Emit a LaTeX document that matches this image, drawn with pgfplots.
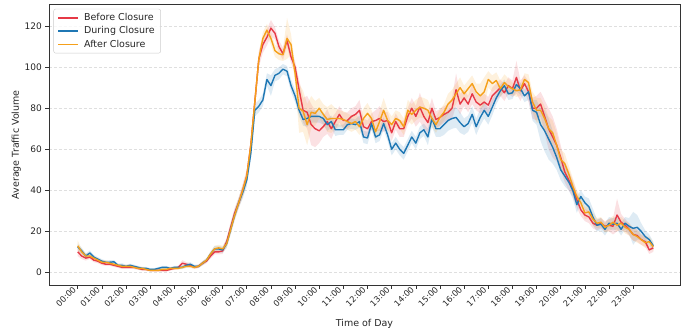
\documentclass[border=0pt]{standalone}
\usepackage{pgfplots}
\pgfplotsset{compat=1.18}
\usepackage{pgfplotstable}
\usepgfplotslibrary{fillbetween}
\usepackage{fontspec}
\setmainfont{DejaVu Sans}
\definecolor{cRed}{HTML}{E63946}
\definecolor{cBlue}{HTML}{1F77B4}
\definecolor{cOrange}{HTML}{F5A01A}
\definecolor{txt}{HTML}{262626}

\pgfplotstableread{
t r re b be o oe
0.000 10 2 12.5 1.5 13 2.5
0.167 8 1.5 10.5 1.5 10 1.5
0.333 7 1.2 8 1.2 8 1.5
0.500 7.5 1 9.5 1.2 8 1.2
0.667 6 1 7.5 1 7 1
0.833 5.5 1 6.5 1 6 1
1.000 4.5 1 5.5 1 5 1
1.167 4 0.8 5 0.8 5 1
1.333 4 0.8 5 1 4.5 0.8
1.500 3.5 0.8 5.2 0.8 4 0.8
1.667 3 0.8 3.5 0.8 3.5 0.8
1.833 2.5 0.8 3.5 1 3 0.8
2.000 2.5 0.8 3 0.8 3 0.8
2.167 2.5 0.8 3.5 0.8 3 0.8
2.333 2.5 0.8 3 0.8 2.5 0.8
2.500 2 0.7 2.5 0.7 2 0.7
2.667 1.5 0.7 2 0.7 2 0.7
2.833 1.5 0.7 2 0.7 1.5 0.7
3.000 1 0.5 1.5 0.6 1 0.5
3.167 1 0.5 1.5 0.6 1 0.5
3.333 1 0.5 2 0.6 1 0.5
3.500 1 0.5 2.5 0.7 1.5 0.6
3.667 1 0.6 2.5 0.7 1.5 0.6
3.833 1.5 0.6 2 0.7 2 0.6
4.000 2 0.7 2.5 0.7 2 0.7
4.167 2.5 0.8 2.5 0.7 2 0.7
4.333 4.5 1.5 2.5 0.8 2.5 0.8
4.500 4 1 3.5 1 3 0.8
4.667 3.5 1 4 1 3 0.8
4.833 2.5 0.8 3 0.8 2.5 0.8
5.000 3 0.8 3 0.8 3 0.8
5.167 4.5 1 4.5 1 4.5 1
5.333 5.5 1 6 1 6 1
5.500 8 1.2 9 1.2 9 1.2
5.667 10 1.2 11.5 1.5 11.5 1.5
5.833 10 1.2 11.5 1.5 12 1.5
6.000 10.5 1.5 11 1.5 11.5 1.5
6.167 15 2 14 2 14 2
6.333 22 2.5 21 2.5 21 2.5
6.500 29 2.5 28 2.5 28 2.5
6.667 34 2.5 34 2.5 34 2.5
6.833 40 3 39 3 40 3
7.000 47 3 45 3 47 3
7.167 62 3 58 3 62 3
7.333 83 4 79 3 83 3
7.500 104 4 81 3 104 3
7.667 111 4 84 3 114 3
7.833 114.5 4 94 3 118 3
8.000 119 4 91 5 114 3
8.167 116.5 3 96 3 108 3
8.333 110 3 97 3 106.5 3
8.500 106.5 3 99 2.5 106 3
8.667 113 3 98 2.5 114 10
8.833 105 3 91 3 111 5
9.000 100 3 86 3 97 4
9.167 89 5 79 3 80 12
9.333 79 6 74.5 3 78.5 10
9.500 78 8 75 4 72 10
9.667 72 10 76 3 78 8
9.833 70 9 76 3 77.5 6
10.000 69 6 76 3 80 5
10.167 71 5 75 3 77 5
10.333 73.5 6 72 3 74.5 6
10.500 70 5 73.5 3 75 7
10.667 73.5 4 69.5 3 75 5
10.833 77 4 69.5 2.5 75 4
11.000 74 4 69.5 2.5 74.5 4
11.167 74 4 72 2.5 73.5 4
11.333 76 4 72.5 2.5 72.5 4
11.500 77 4 72 2.5 73.5 4
11.667 79 5 73.5 3 71 4
11.833 71 4 66 3 75 5
12.000 70 4 65.5 3 77.5 5
12.167 73.5 4 72.5 3 75 4
12.333 74 5 66 3 68.5 4
12.500 75 6 67 3 73.5 5
12.667 73.5 5 72.5 3 79 6
12.833 74 4 67 3 74 5
13.000 68 4 60 3 72 4
13.167 73.5 4 63 3 75 4
13.333 70 4 60 3 74 4
13.500 70 4 58 3 71 4
13.667 76 4 62 3 79 5
13.833 80 5 66 3 77 5
14.000 76 5 63 3 79 5
14.167 80.5 7 68 3 80.5 5
14.333 76 6 69.5 3 80 5
14.500 73 5 66 4 79 5
14.667 80 5 75 4 75 4
14.833 74.5 4 70 4 72 4
15.000 75.5 4 70 4 75.5 4
15.167 77 4 72 5 78 4
15.333 78 4 74 5 82 5
15.500 80 5 75 5 84 5
15.667 89 8 75.5 5 87 5
15.833 82 5 73 5 90 5
16.000 85 4 71 4 87 4
16.167 82 4 72.5 4 89.5 4
16.333 87 5 77 4 92 4
16.500 83 4 71 4 88 4
16.667 81.5 4 75.5 4 86 6
16.833 83 4 79 4 88 7
17.000 81.5 4 76 4 94 4
17.167 86 4 80.5 4 92 4
17.333 88 4 85 3 93.5 4
17.500 90 4 88.5 3 89.5 4
17.667 87.5 4 91 3 92.5 4
17.833 91 4 87 3 90.5 4
18.000 89.5 4 87.5 3 89.5 3
18.167 95 8 91.5 3 88.5 3
18.333 88.5 5 89.5 3 89 3
18.500 92 4 86 3 94 3
18.667 88 5 88 4 92.5 4
18.833 80 5 79 5 83 5
19.000 80 6 78 6 79 6
19.167 82 6 72 8 79 6
19.333 76 8 69 10 75 6
19.500 70 10 65 10 70 6
19.667 66 10 61 8 68 6
19.833 62 8 56 6 62 6
20.000 56 6 50 5 55 5
20.167 49 5 47 5 53 5
20.333 45 5 44 4 48 4
20.500 41 4 40 4 42 4
20.667 35.5 4 33 4 37 3
20.833 30.5 3 37 3 34 3
21.000 28 3 34 3 29 3
21.167 27 3 32 4 29.5 3
21.333 24 2.5 27 4 26 3
21.500 23 2.5 23 3 24 2.5
21.667 24 2.5 23.5 3 24.5 2.5
21.833 22.5 2.5 21 3 22 2.5
22.000 23 3 24 3 23 3
22.167 22.5 4 23.5 3 24.5 3
22.333 28 8 24 3 23 3
22.500 24.5 4 21 3 24 3
22.667 23 3 24 3 22 3
22.833 21 3 22.5 4 21 3
23.000 18.5 3 21.5 8 18.5 3
23.167 18 3 22 6 17.5 3
23.333 16 2.5 20 4 16 2.5
23.500 15 2.5 17.5 3 14.5 2.5
23.667 11 2 16 2.5 15 2.5
23.833 12 2 13 2 12.5 2
}\data

\begin{document}
\begin{tikzpicture}
\begin{axis}[
  scale only axis,
  width=631pt, height=280.5pt,
  xmin=-1.19, xmax=24.94,
  ymin=-6.1, ymax=130.5,
  xtick={0,1,...,23},
  xticklabels={00:00,01:00,02:00,03:00,04:00,05:00,06:00,07:00,08:00,09:00,10:00,11:00,12:00,13:00,14:00,15:00,16:00,17:00,18:00,19:00,20:00,21:00,22:00,23:00},
  ytick={0,20,...,120},
  tick pos=left,
  tick align=outside,
  major tick length=3.5pt,
  every tick/.style={black!80, line width=0.6pt},
  axis line style={black!80, line width=0.8pt},
  ymajorgrids,
  major grid style={gray!25, dash pattern=on 3pt off 2pt, line width=0.6pt},
  /pgf/number format/assume math mode=true,
  tick label style={font=\fontsize{9}{10}\selectfont, text=txt},
  xticklabel style={font=\fontsize{8.3}{9}\selectfont, rotate=45, anchor=base east, inner sep=0pt, xshift=-2pt, yshift=-0.5pt},
  yticklabel style={inner sep=0pt, xshift=-3.5pt},
  xlabel={Time of Day},
  ylabel={Average Traffic Volume},
  label style={font=\fontsize{9.5}{11}\selectfont, text=txt},
  xlabel style={at={(axis description cs:0.5,0)}, anchor=north, yshift=-34pt, inner sep=0pt},
  ylabel style={at={(axis description cs:-0.0444,0.5)}, anchor=south, inner sep=0pt},
  legend style={at={(axis description cs:0,1)}, anchor=north west, xshift=4.5pt, yshift=-4.3pt,
    draw=black!20, rounded corners=2pt, fill=white, fill opacity=0.8, text opacity=1,
    font=\fontsize{9.5}{11}\selectfont, text=txt, row sep=0.5pt, column sep=3pt,
    inner xsep=4pt, inner ysep=2.5pt},
  legend cell align=left,
  legend image code/.code={\draw[#1, line width=1.4pt] (0pt,0pt) -- (20pt,0pt);},
]
% bands
\addplot[name path=rU, draw=none, forget plot] table[x=t, y expr=\thisrow{r}+\thisrow{re}] {\data};
\addplot[name path=rL, draw=none, forget plot] table[x=t, y expr=\thisrow{r}-\thisrow{re}] {\data};
\addplot[fill=cRed, fill opacity=0.15, draw=none, forget plot] fill between[of=rU and rL];
\addplot[name path=bU, draw=none, forget plot] table[x=t, y expr=\thisrow{b}+\thisrow{be}] {\data};
\addplot[name path=bL, draw=none, forget plot] table[x=t, y expr=\thisrow{b}-\thisrow{be}] {\data};
\addplot[fill=cBlue, fill opacity=0.15, draw=none, forget plot] fill between[of=bU and bL];
\addplot[name path=oU, draw=none, forget plot] table[x=t, y expr=\thisrow{o}+\thisrow{oe}] {\data};
\addplot[name path=oL, draw=none, forget plot] table[x=t, y expr=\thisrow{o}-\thisrow{oe}] {\data};
\addplot[fill=cOrange, fill opacity=0.15, draw=none, forget plot] fill between[of=oU and oL];
% lines
\addplot[cRed, line width=1.4pt, line join=round] table[x=t, y=r] {\data};
\addlegendentry{Before Closure}
\addplot[cBlue, line width=1.4pt, line join=round] table[x=t, y=b] {\data};
\addlegendentry{During Closure}
\addplot[cOrange, line width=1.4pt, line join=round] table[x=t, y=o] {\data};
\addlegendentry{After Closure}
\end{axis}
\pgfresetboundingbox
\path[use as bounding box] ([xshift=-49pt,yshift=-48pt]current axis.south west) rectangle ([xshift=1pt,yshift=4.5pt]current axis.north east);
\end{tikzpicture}
\end{document}
